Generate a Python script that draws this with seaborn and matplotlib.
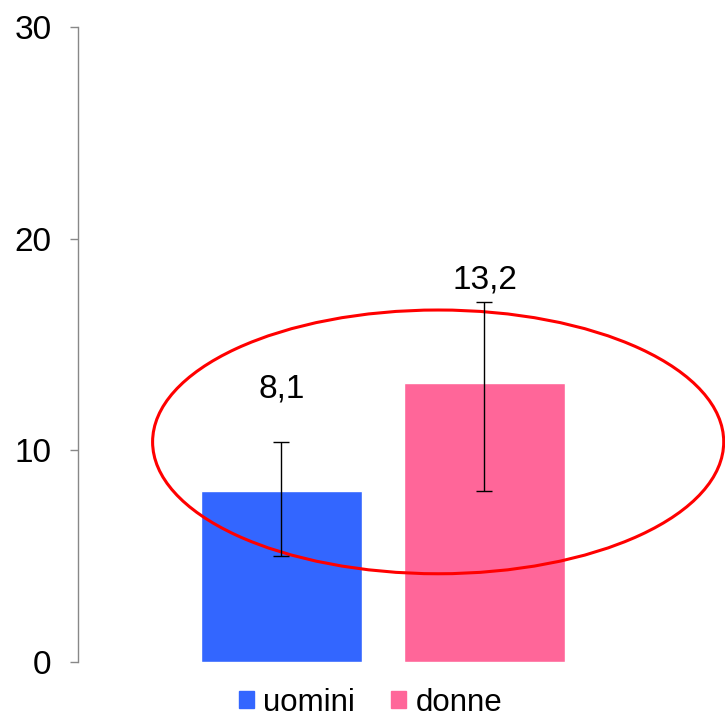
import matplotlib
matplotlib.use("Agg")
import matplotlib.pyplot as plt
from matplotlib.patches import Ellipse
import seaborn as sns
import pandas as pd

# --- DATA ---
groups = ['uomini', 'donne']
values = [8.1, 13.2]
err_low = [5.0, 8.1]     # lower end of the error bar
err_high = [10.4, 17.0]  # upper end of the error bar
value_labels = ['8,1', '13,2']
colors = ['#3366FF', '#FF6699']
y_ticks = [0, 10, 20, 30]

sns.set_theme(style='white')
plt.rcParams['font.family'] = ['Liberation Sans', 'DejaVu Sans']
plt.rcParams['text.color'] = 'black'

df = pd.DataFrame({'group': groups, 'value': values})

fig = plt.figure(figsize=(7.25, 7.17), dpi=100)
ax = fig.add_axes([0.1076, 0.0767, 0.841, 0.8856])

sns.barplot(data=df, x='group', y='value', hue='group', palette=colors,
            width=0.79, saturation=1, legend=False, ax=ax)

# asymmetric error bars
xs = list(range(len(groups)))
yerr = [[v - lo for v, lo in zip(values, err_low)],
        [hi - v for v, hi in zip(values, err_high)]]
ax.errorbar(xs, values, yerr=yerr, fmt='none', ecolor='black',
            elinewidth=1, capsize=5.5, capthick=1)

# value labels
label_y = [12.9, 18.05]
for x, y, t in zip(xs, label_y, value_labels):
    ax.text(x, y, t, ha='center', va='center', fontsize=24, color='black')

# red highlight ellipse
ell = Ellipse((0.772, 10.4), width=2.81, height=12.46, fill=False,
              edgecolor='#FF0000', linewidth=2.2, clip_on=False)
ax.add_patch(ell)

ax.set_xlim(-1, 2)
ax.set_ylim(0, 30)
ax.set_yticks(y_ticks)
ax.set_yticklabels([str(t) for t in y_ticks], fontsize=24)
ax.set_xticks([])
ax.set_xlabel('')
ax.set_ylabel('')
for side in ['top', 'right', 'bottom']:
    ax.spines[side].set_visible(False)
ax.spines['left'].set_color('#888888')
ax.spines['left'].set_linewidth(1)
ax.tick_params(axis='y', left=True, length=6, width=1, color='#888888',
               pad=13, labelcolor='black')

# legend below the chart
handles = [plt.Rectangle((0, 0), 1, 1, color=c) for c in colors]
fig.legend(handles, groups, loc='center', bbox_to_anchor=(0.511, 0.02),
           ncol=2, frameon=False, fontsize=22.5, handlelength=0.48,
           handleheight=0.48, handletextpad=0.3, columnspacing=1.15,
           labelcolor='black')

fig.savefig('out.png', dpi=100)
